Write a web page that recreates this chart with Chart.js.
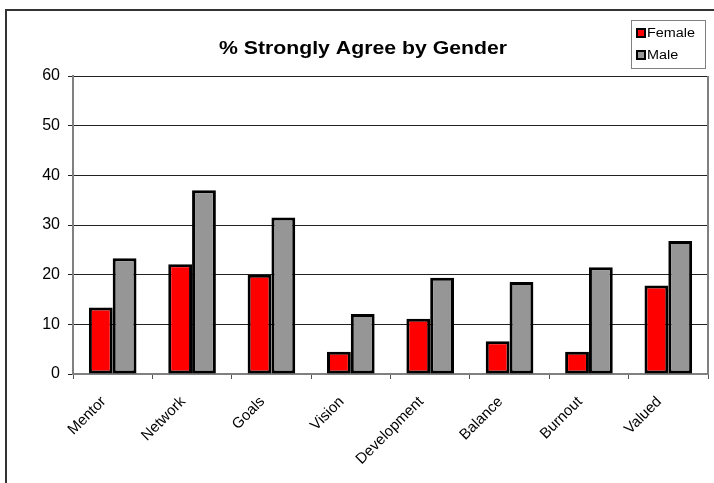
<!DOCTYPE html>
<html>
<head>
<meta charset="utf-8">
<script src="https://cdn.jsdelivr.net/npm/chart.js@4"></script>
<style>
  body { margin: 0; background: #fff; }
  .frame { position: absolute; left: 5px; top: 9px; width: 800px; height: 600px;
           border-left: 2px solid #333; border-top: 2px solid #333; }
  .wrap { position: absolute; left: 0; top: 0; width: 714px; height: 483px; }
</style>
</head>
<body>
<div class="frame"></div>
<div class="wrap"><canvas id="myChart" width="714" height="483"></canvas></div>
<script>
const categories = ['Mentor', 'Network', 'Goals', 'Vision', 'Development', 'Balance', 'Burnout', 'Valued'];
const female = [13.4, 22.1, 20.0, 4.5, 11.1, 6.6, 4.5, 17.8];
const male = [23.3, 37.0, 31.5, 12.1, 19.4, 18.5, 21.5, 26.8];
const yTicks = [0, 10, 20, 30, 40, 50, 60];

const FONT = "'Liberation Sans', Arial, sans-serif";

// title and legend drawn by hand, text a bit wider like the original
const decor = {
    id: 'decor',
    afterDraw(chart) {
        const c = chart.ctx;
        c.save();
        c.fillStyle = '#000';
        c.font = 'bold 18px ' + FONT;
        c.textAlign = 'center';
        c.textBaseline = 'alphabetic';
        c.translate(363, 54);
        c.scale(1.18, 1);
        c.fillText('% Strongly Agree by Gender', 0, 0);
        c.restore();

        c.save();
        c.strokeStyle = '#808080';
        c.lineWidth = 1;
        c.strokeRect(631.5, 20.5, 74, 48);
        const items = [['Female', '#ff0000', 33], ['Male', '#969696', 55]];
        items.forEach(function (it) {
            c.fillStyle = '#000';
            c.fillRect(636, it[2] - 5, 10, 10);
            c.fillStyle = it[1];
            c.fillRect(638, it[2] - 3, 6, 6);
            c.save();
            c.fillStyle = '#000';
            c.font = '12px ' + FONT;
            c.textBaseline = 'middle';
            c.translate(647, it[2] + 1);
            c.scale(1.2, 1);
            c.fillText(it[0], 0, 0);
            c.restore();
        });
        c.restore();
    }
};

const ctx = document.getElementById('myChart').getContext('2d');
const myChart = new Chart(ctx, {
    type: 'bar',
    data: {
        labels: categories,
        datasets: [{
            label: 'Female',
            data: female,
            backgroundColor: '#ff0000',
            borderColor: '#000',
            borderWidth: 3,
            borderSkipped: false
        }, {
            label: 'Male',
            data: male,
            backgroundColor: '#969696',
            borderColor: '#000',
            borderWidth: 3,
            borderSkipped: false
        }]
    },
    options: {
        responsive: false,
        animation: false,
        events: [],
        layout: { padding: { top: 76, right: 6, left: 0, bottom: 0 } },
        datasets: { bar: { categoryPercentage: 0.6, barPercentage: 1.0 } },
        plugins: { legend: { display: false }, title: { display: false }, tooltip: { enabled: false } },
        scales: {
            x: {
                afterFit(scale) { scale.height = 109; },
                grid: { offset: true, drawOnChartArea: false, drawTicks: true, tickLength: 5, color: '#555' },
                border: { color: '#808080', width: 2 },
                ticks: {
                    maxRotation: 45, minRotation: 45, autoSkip: false,
                    padding: 14, labelOffset: -9,
                    color: '#000', font: { family: FONT, size: 15 }
                }
            },
            y: {
                min: 0, max: 60,
                afterFit(scale) { scale.width = 73; },
                afterBuildTicks(scale) { scale.ticks = yTicks.map(v => ({ value: v })); },
                grid: { color: '#222', lineWidth: 1, tickLength: 5, drawTicks: true },
                border: { color: '#808080', width: 2 },
                ticks: { padding: 8, color: '#000', font: { family: FONT, size: 16 } }
            }
        }
    },
    plugins: [decor, {
        id: 'rightEdge',
        afterDraw(chart) {
            const a = chart.chartArea, c = chart.ctx;
            c.save();
            c.strokeStyle = '#808080';
            c.lineWidth = 2;
            c.beginPath();
            c.moveTo(a.right, a.top);
            c.lineTo(a.right, a.bottom);
            c.stroke();
            c.restore();
        }
    }]
});
</script>
</body>
</html>
